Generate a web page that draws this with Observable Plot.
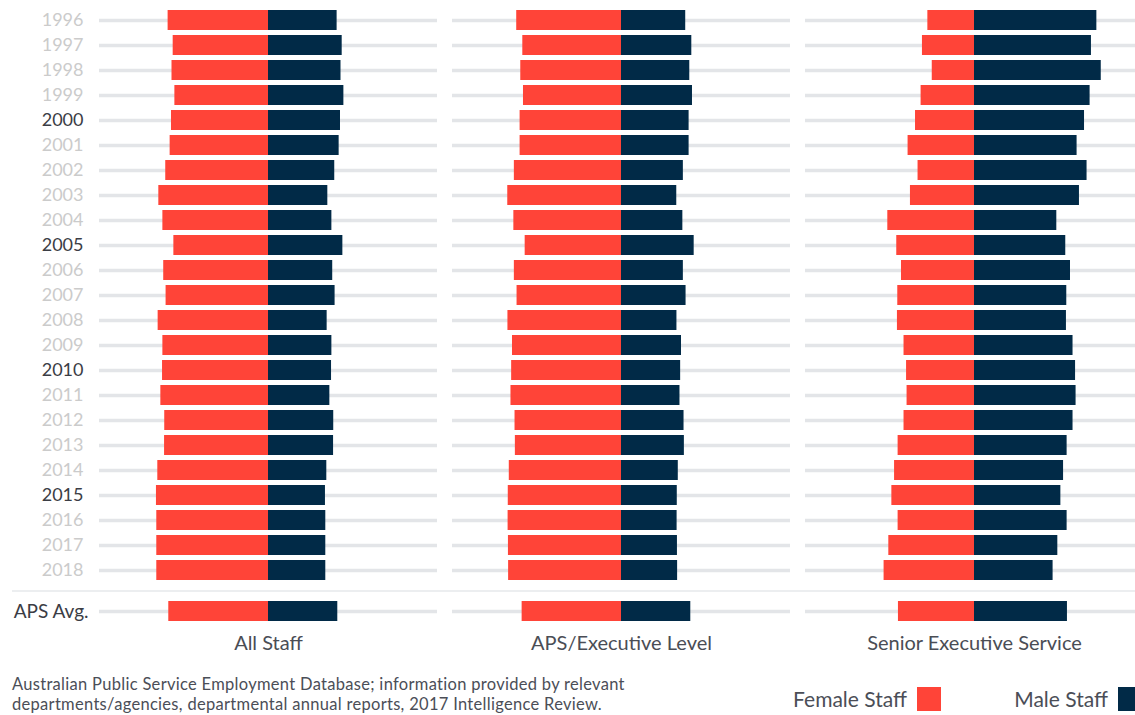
<!DOCTYPE html>
<html>
<head>
<meta charset="utf-8">
<script src="https://cdn.jsdelivr.net/npm/d3@7"></script>
<script src="https://cdn.jsdelivr.net/npm/@observablehq/plot@0.6"></script>
<style>
  html, body { margin: 0; padding: 0; background: #fff; }
  body { width: 1135px; height: 715px; overflow: hidden; position: relative; font-family: Lato, "Open Sans", sans-serif; }
  #a, #b { position: absolute; left: 0; width: 1143px; }
  #a { top: 0; }
  #b { top: 592px; }
  #a svg, #b svg { max-width: none !important; }
  #sep { position: absolute; left: 12px; width: 1123px; top: 590px; height: 0; border-top: 2px solid #eceef0; }
  #caption { position: absolute; left: 12px; top: 675px; font-size: 16.5px; line-height: 19.8px; letter-spacing: 0.3px; color: #4b4e57; white-space: nowrap; }
  .leg { position: absolute; top: 687px; display: flex; align-items: center; gap: 10px; font-size: 21px; color: #4b4e57; line-height: 24px; }
  .sw { width: 24px; height: 24px; display: inline-block; }
</style>
</head>
<body>
<div id="a"></div>
<div id="sep"></div>
<div id="b"></div>
<div id="caption">Australian Public Service Employment Database; information provided by relevant<br>departments/agencies, departmental annual reports, 2017 Intelligence Review.</div>
<div id="legF" class="leg" style="right:194px"></div>
<div id="legM" class="leg" style="right:-7px"></div>
<script>
// ---- Data ----
const years = ["1996","1997","1998","1999","2000","2001","2002","2003","2004","2005","2006","2007","2008","2009","2010","2011","2012","2013","2014","2015","2016","2017","2018"];
const darkYears = ["2000","2005","2010","2015"];
const groups = ["All Staff", "APS/Executive Level", "Senior Executive Service"];
const sexes = ["Female Staff", "Male Staff"];
const avgLabel = ["APS Avg."];

// All Staff (% female / % male)
const allFemale = [59.4,56.4,57.1,55.4,57.4,58.2,60.8,64.9,62.5,56.0,62.0,60.6,65.3,62.5,62.7,63.7,61.4,61.5,65.5,66.3,66.1,66.1,66.1];
const allMale   = [40.6,43.6,42.9,44.6,42.6,41.8,39.2,35.1,37.5,44.0,38.0,39.4,34.7,37.5,37.3,36.3,38.6,38.5,34.5,33.7,33.9,33.9,33.9];
// APS/Executive Level
const apsFemale = [62.0,58.4,59.6,58.0,60.0,60.0,63.4,67.3,63.7,57.0,63.4,61.8,67.2,64.5,65.0,65.4,63.0,62.8,66.4,67.0,67.1,66.9,66.8];
const apsMale   = [38.0,41.6,40.4,42.0,40.0,40.0,36.6,32.7,36.3,43.0,36.6,38.2,32.8,35.5,35.0,34.6,37.0,37.2,33.6,33.0,32.9,33.1,33.2];
// Senior Executive Service
const sesFemale = [27.6,30.8,25.0,31.6,34.9,39.3,33.4,37.9,51.3,46.0,43.2,45.4,45.6,41.7,40.2,39.9,41.7,45.2,47.3,48.9,45.2,50.7,53.5];
const sesMale   = [72.4,69.2,75.0,68.4,65.1,60.7,66.6,62.1,48.7,54.0,56.8,54.6,54.4,58.3,59.8,60.1,58.3,54.8,52.7,51.1,54.8,49.3,46.5];
// APS average, per group
const avgFemale = [59.0, 58.8, 45.0];
const avgMale   = [41.0, 41.0, 55.0];

// ---- Styles ----
const RED = "#ff4438";
const NAVY = "#012a47";
const GRID = "#e3e5e8";

// ---- Build tables ----
const series = [[allFemale, allMale], [apsFemale, apsMale], [sesFemale, sesMale]];
const rows = [];
const grid = [];
groups.forEach((g, gi) => {
  years.forEach((y, yi) => {
    grid.push({group: g, year: y});
    rows.push({group: g, year: y, sex: sexes[0], value: -series[gi][0][yi]});
    rows.push({group: g, year: y, sex: sexes[1], value: series[gi][1][yi]});
  });
});
const avgRows = [];
const avgGrid = [];
groups.forEach((g, gi) => {
  avgGrid.push({group: g, year: avgLabel[0]});
  avgRows.push({group: g, year: avgLabel[0], sex: sexes[0], value: -avgFemale[gi]});
  avgRows.push({group: g, year: avgLabel[0], sex: sexes[1], value: avgMale[gi]});
});

const common = {
  width: 1143,
  marginLeft: 99,
  marginRight: 0,
  style: {fontFamily: "Lato, 'Open Sans', sans-serif", fontSize: "18px", background: "transparent", overflow: "visible", maxWidth: "none"},
  fx: {domain: groups, paddingInner: 15 / 353, paddingOuter: 0, axis: null, label: null},
  x: {domain: [-100, 100], axis: null},
  color: {domain: sexes, range: [RED, NAVY]}
};

const plotA = Plot.plot({
  ...common,
  height: 585,
  marginTop: 5,
  marginBottom: 0,
  y: {domain: years, paddingInner: 0.2, paddingOuter: 0.1, label: null},
  marks: [
    Plot.ruleY(grid, {y: "year", fx: "group", stroke: GRID, strokeWidth: 3.5}),
    Plot.barX(rows, {x: "value", y: "year", fx: "group", fill: "sex"}),
    Plot.axisY({ticks: years.filter(d => !darkYears.includes(d)), tickSize: 0, tickPadding: 16, fill: "#cbcbcb", fontSize: 18, label: null}),
    Plot.axisY({ticks: darkYears, tickSize: 0, tickPadding: 16, fill: "#3b3d45", fontSize: 18, label: null})
  ]
});
document.getElementById("a").append(plotA);

const plotB = Plot.plot({
  ...common,
  height: 66,
  marginTop: 6.5,
  marginBottom: 34.5,
  y: {domain: avgLabel, paddingInner: 0.2, paddingOuter: 0.1, label: null},
  marks: [
    Plot.ruleY(avgGrid, {y: "year", fx: "group", stroke: GRID, strokeWidth: 3.5}),
    Plot.barX(avgRows, {x: "value", y: "year", fx: "group", fill: "sex"}),
    Plot.axisY({tickSize: 0, tickPadding: 11, fill: "#3b3d45", fontSize: 19, label: null}),
    Plot.axisFx({anchor: "bottom", tickSize: 0, tickPadding: 12, fill: "#4a4d55", fontSize: 20, label: null})
  ]
});
document.getElementById("b").append(plotB);

// ---- Legend ----
function legendItem(el, label, color) {
  const t = document.createElement("span");
  t.textContent = label;
  const s = document.createElement("span");
  s.className = "sw";
  s.style.background = color;
  el.append(t, s);
}
legendItem(document.getElementById("legF"), sexes[0], RED);
legendItem(document.getElementById("legM"), sexes[1], NAVY);
</script>
</body>
</html>
